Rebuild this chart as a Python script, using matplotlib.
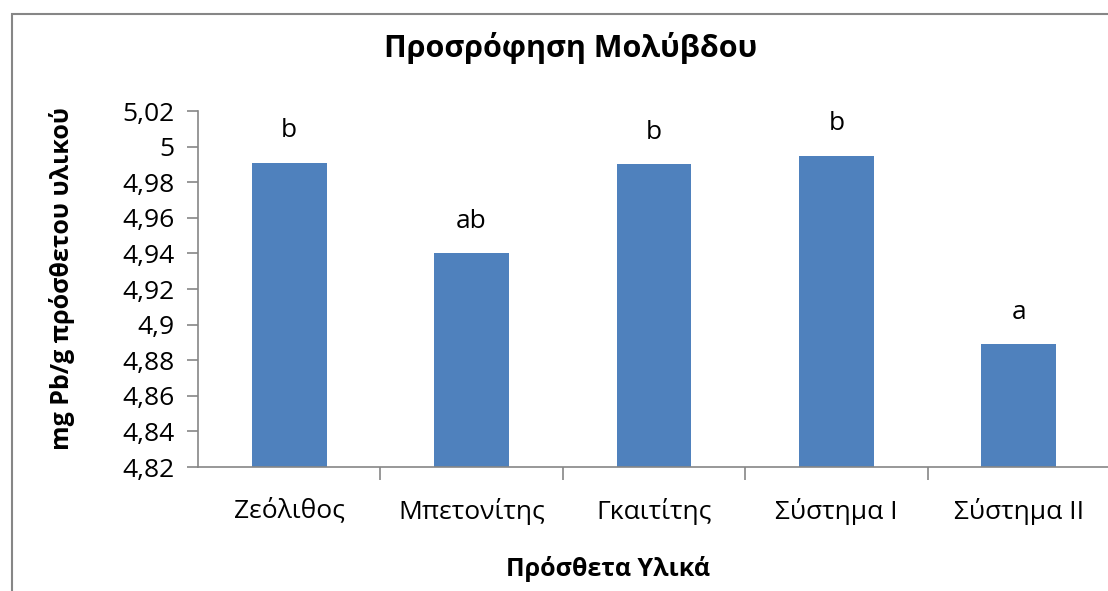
import matplotlib.pyplot as plt
from matplotlib.patches import Rectangle
from matplotlib.ticker import FuncFormatter

materials = ["Ζεόλιθος", "Μπετονίτης", "Γκαιτίτης", "Σύστημα I", "Σύστημα II"]
sorption = [4.991, 4.940, 4.990, 4.995, 4.889]
letters = ["b", "ab", "b", "b", "a"]

plt.rcParams["font.family"] = ["Open Sans", "DejaVu Sans"]
bar_color = "#4F81BD"
axis_color = "#868686"

fig = plt.figure(figsize=(11.08, 5.91), dpi=100)
# chart border (cut by the right and bottom image edges)
fig.patches.append(Rectangle((12 / 1108, -0.05), 1.1, 1 - 14 / 591 + 0.05,
                             transform=fig.transFigure, fill=False,
                             edgecolor=axis_color, linewidth=1.5))

ax = fig.add_axes([198 / 1108, 1 - 467 / 591, (1110 - 198) / 1108, 356 / 591])
x = list(range(len(materials)))
ax.bar(x, sorption, width=0.41, color=bar_color, zorder=2)
for i, (v, s) in enumerate(zip(sorption, letters)):
    ax.text(i, v + 0.011, s, ha="center", va="bottom", fontsize=19)

ax.set_xlim(-0.5, len(materials) - 0.5)
ax.set_ylim(4.82, 5.02)
ax.set_yticks([4.82 + 0.02 * k for k in range(11)])
ax.yaxis.set_major_formatter(FuncFormatter(
    lambda v, p: ("%.2f" % v).rstrip("0").rstrip(".").replace(".", ",")))
ax.set_xticks(x)
ax.set_xticklabels(materials)
ax.set_xticks([i + 0.5 for i in x], minor=True)
ax.tick_params(axis="x", which="major", length=0, pad=22, labelsize=19)
ax.tick_params(axis="x", which="minor", length=9, color=axis_color, width=1.2)
ax.tick_params(axis="y", length=8, color=axis_color, width=1.2, labelsize=19, pad=9)

for side in ["top", "right"]:
    ax.spines[side].set_visible(False)
for side in ["left", "bottom"]:
    ax.spines[side].set_color(axis_color)
    ax.spines[side].set_linewidth(1.2)

fig.text(571 / 1108, 1 - 48 / 591, "Προσρόφηση Μολύβδου", ha="center",
         va="center", fontsize=22, fontweight="bold")
fig.text(608 / 1108, 1 - 569 / 591, "Πρόσθετα Υλικά", ha="center",
         va="center", fontsize=18, fontweight="bold")
fig.text(62 / 1108, 1 - 279 / 591, "mg Pb/g πρόσθετου υλικού", ha="center",
         va="center", rotation=90, fontsize=18, fontweight="bold")

fig.savefig("out.png", dpi=100)
